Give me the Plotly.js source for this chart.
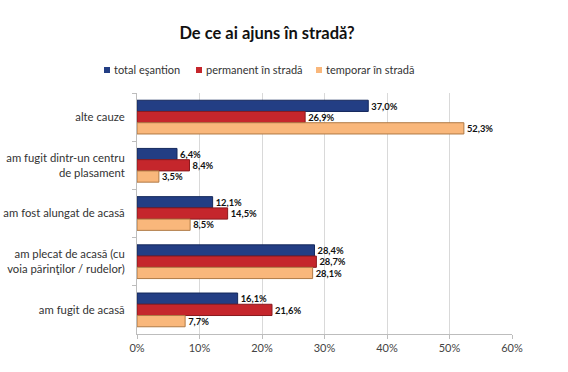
<!DOCTYPE html>
<html>
<head>
<meta charset="utf-8">
<script src="https://cdn.plot.ly/plotly-3.0.1.min.js"></script>
<style>html,body{margin:0;padding:0;background:#fff;}#chart{width:568px;height:372px;}</style>
</head>
<body>
<div id="chart"></div>
<script>
const categories = [
  "alte cauze",
  "am fugit dintr-un centru<br>de plasament",
  "am fost alungat de acasă",
  "am plecat de acasă (cu<br>voia părinţilor / rudelor)",
  "am fugit de acasă"
];
const seriesNames = ["total eşantion", "permanent în stradă", "temporar în stradă"];
const totalEsantion = [37.0, 6.4, 12.1, 28.4, 16.1];
const permanentStrada = [26.9, 8.4, 14.5, 28.7, 21.6];
const temporarStrada = [52.3, 3.5, 8.5, 28.1, 7.7];
const xTicks = [0, 10, 20, 30, 40, 50, 60];
const xTickLabels = ["0%", "10%", "20%", "30%", "40%", "50%", "60%"];

const W = 568, H = 372;
const colors = ["#233E84", "#C5262C", "#F9B77B"];
const edge = ["#14285c", "#8a1a1e", "#b07a45"];
const values = [totalEsantion, permanentStrada, temporarStrada];
const FONT = "Lato, 'Liberation Sans', sans-serif";

const traces = values.map((v, i) => ({
  type: "bar",
  orientation: "h",
  name: seriesNames[i],
  y: categories,
  x: v,
  marker: {color: colors[i], line: {color: edge[i], width: 1}},
  texttemplate: "%{x:.1f}%",
  textposition: "outside",
  cliponaxis: false,
  textfont: {family: FONT, size: 10, color: "#111", weight: "bold"},
  hoverinfo: "skip"
}));

// custom legend (positions in container pixels)
const legendSquares = [104, 196, 316];
const legendY = 70;
const shapes = [];
const annotations = [];
seriesNames.forEach((n, i) => {
  shapes.push({
    type: "rect", xref: "paper", yref: "paper",
    x0: 0, x1: 0, y0: 0, y1: 0,
    _px: legendSquares[i], fillcolor: colors[i], line: {width: 0}
  });
  annotations.push({
    text: n, xref: "paper", yref: "paper", showarrow: false,
    xanchor: "left", yanchor: "middle", _px: legendSquares[i] + 8,
    font: {family: FONT, size: 11, color: "#333"}
  });
});

const margin = {l: 137, r: 56, t: 93, b: 38};
const pw = W - margin.l - margin.r, ph = H - margin.t - margin.b;
const toPX = px => (px - margin.l) / pw;
const toPY = py => (H - margin.b - py) / ph;
shapes.forEach(s => {
  s.x0 = toPX(s._px); s.x1 = toPX(s._px + 6);
  s.y0 = toPY(legendY + 3); s.y1 = toPY(legendY - 3);
  delete s._px;
});
annotations.forEach(a => {
  a.x = toPX(a._px); a.y = toPY(legendY); delete a._px;
});

const layout = {
  width: W, height: H,
  separators: ", ",
  margin: margin,
  paper_bgcolor: "#fff",
  plot_bgcolor: "#fff",
  font: {family: FONT, size: 11, color: "#333"},
  title: {
    text: "<b>De ce ai ajuns în stradă?</b>",
    font: {family: FONT, size: 16.5, color: "#111"},
    x: 267 / W, xanchor: "center", y: 1 - 33 / H, yanchor: "middle", xref: "container", yref: "container"
  },
  barmode: "group",
  bargap: 0.3,
  bargroupgap: 0,
  showlegend: false,
  shapes: shapes,
  annotations: annotations,
  xaxis: {
    range: [0, 60],
    tickvals: xTicks, ticktext: xTickLabels,
    showgrid: true, gridcolor: "#d9d9d9", gridwidth: 1,
    zeroline: false, showline: true, linecolor: "#bdbdbd",
    ticks: "outside", ticklen: 4, tickcolor: "#bdbdbd",
    tickfont: {size: 11, color: "#444"},
    fixedrange: true
  },
  yaxis: {
    autorange: "reversed",
    showline: true, linecolor: "#bdbdbd",
    ticks: "outside", ticklen: 4, tickcolor: "#bdbdbd",
    tickson: "boundaries",
    showgrid: false,
    tickfont: {size: 11.3, color: "#333"},
    ticklabelstandoff: 9,
    fixedrange: true
  }
};

Plotly.newPlot("chart", traces, layout, {displayModeBar: false, staticPlot: true});
</script>
</body>
</html>
